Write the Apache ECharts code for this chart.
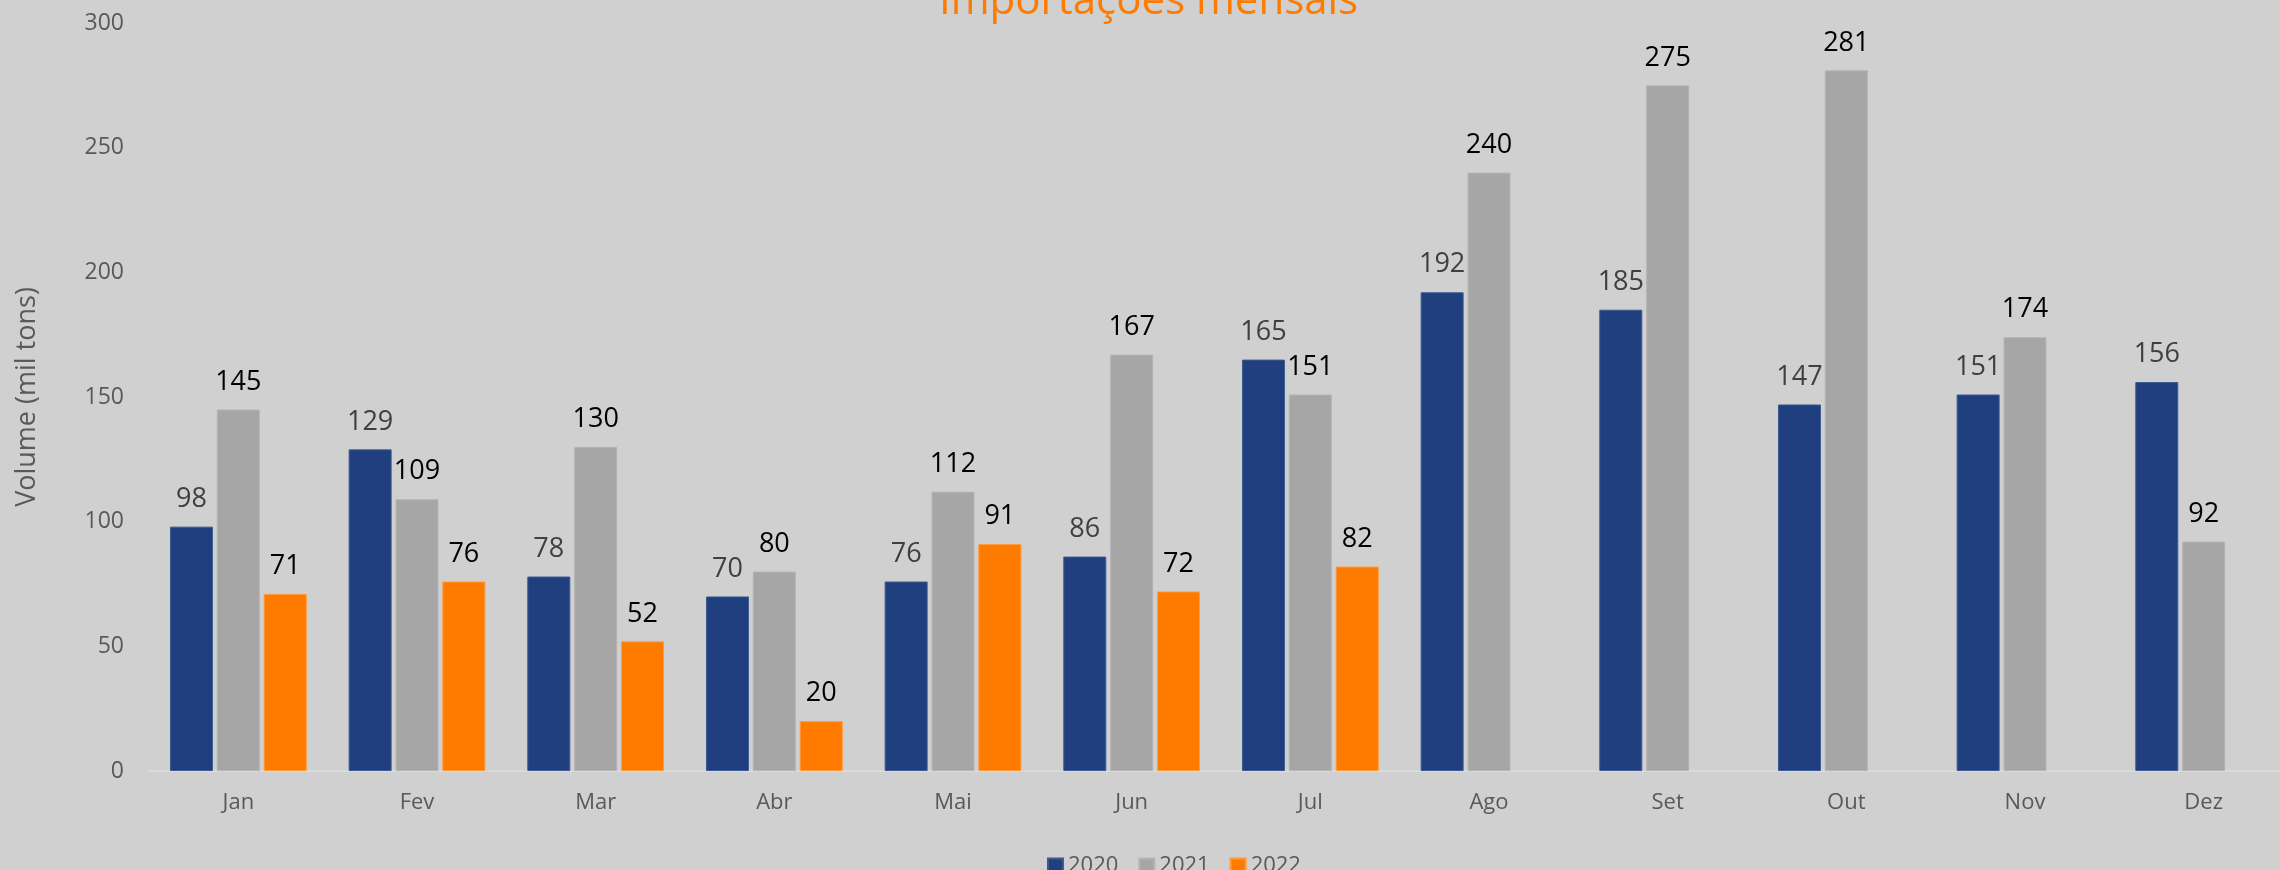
<!DOCTYPE html>
<html>
<head>
<meta charset="utf-8">
<script src="https://cdn.jsdelivr.net/npm/echarts@6/dist/echarts.min.js"></script>
<style>
  html, body { margin: 0; padding: 0; background: #d0d0d0; overflow: hidden; }
  /* o gráfico original é cortado à direita, por isso o canvas é um pouco mais largo */
  #chart { width: 2293px; height: 870px; }
</style>
</head>
<body>
<div id="chart"></div>
<script>
  // meses e volumes (mil tons)
  const months = ['Jan', 'Fev', 'Mar', 'Abr', 'Mai', 'Jun', 'Jul', 'Ago', 'Set', 'Out', 'Nov', 'Dez']
  const years = ['2020', '2021', '2022']
  const v2020 = [98, 129, 78, 70, 76, 86, 165, 192, 185, 147, 151, 156]
  const v2021 = [145, 109, 130, 80, 112, 167, 151, 240, 275, 281, 174, 92]
  const v2022 = [71, 76, 52, 20, 91, 72, 82, null, null, null, null, null]

  const colors = ['#1f3f7e', '#a6a6a6', '#ff7b00']
  const borders = ['#3c5b94', '#b4b4b4', '#ff9a3c']
  const labelColors = ['#404040', '#000000', '#000000']

  function makeSeries (name, data, i) {
    return {
      name: name,
      type: 'bar',
      data: data,
      barWidth: 43,
      barGap: '9%',
      itemStyle: {
        color: colors[i],
        borderColor: borders[i],
        borderWidth: 1
      },
      label: {
        show: true,
        position: 'top',
        distance: 14,
        fontFamily: 'Open Sans',
        fontSize: 27,
        color: labelColors[i]
      }
    }
  }

  const myChart = echarts.init(document.getElementById('chart'))
  myChart.setOption({
    backgroundColor: '#d0d0d0',
    animation: false,
    title: {
      text: 'Importações mensais',
      left: 934,
      top: -24,
      textStyle: {
        color: '#ff7b00',
        fontFamily: 'Open Sans',
        fontWeight: 'normal',
        fontSize: 42
      }
    },
    legend: {
      data: years,
      left: 1042,
      top: 850,
      itemWidth: 15,
      itemHeight: 15,
      itemGap: 20,
      icon: 'rect',
      textStyle: {
        color: '#595959',
        fontFamily: 'Open Sans',
        fontSize: 22
      }
    },
    grid: {
      left: 149,
      top: 23,
      right: 0,
      height: 748
    },
    xAxis: {
      type: 'category',
      data: months,
      axisLine: { lineStyle: { color: '#dadada', width: 2 } },
      axisTick: { show: false },
      axisLabel: {
        color: '#595959',
        fontFamily: 'Open Sans',
        fontSize: 22,
        margin: 21
      }
    },
    yAxis: {
      type: 'value',
      min: 0,
      max: 300,
      interval: 50,
      name: 'Volume (mil tons)',
      nameLocation: 'middle',
      nameGap: 108,
      nameTextStyle: {
        color: '#595959',
        fontFamily: 'Open Sans',
        fontSize: 27
      },
      axisLine: { show: false },
      axisTick: { show: false },
      splitLine: { show: false },
      axisLabel: {
        color: '#595959',
        fontFamily: 'Open Sans',
        fontSize: 23,
        margin: 25
      }
    },
    series: [
      makeSeries(years[0], v2020, 0),
      makeSeries(years[1], v2021, 1),
      makeSeries(years[2], v2022, 2)
    ]
  })
</script>
</body>
</html>
